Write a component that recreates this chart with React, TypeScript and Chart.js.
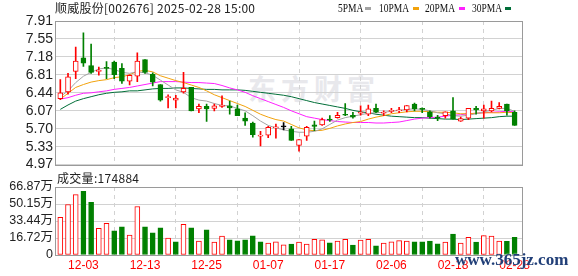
import React, { useEffect, useRef } from 'react';
import { Chart, registerables } from 'chart.js';

Chart.register(...registerables);

// ---------- data ----------
const dates = [
  '11-28', '11-29', '12-02', '12-03', '12-04', '12-05', '12-06', '12-09', '12-10', '12-11',
  '12-12', '12-13', '12-16', '12-17', '12-18', '12-19', '12-20', '12-23', '12-24', '12-25',
  '12-26', '12-27', '12-30', '12-31', '01-02', '01-03', '01-06', '01-07', '01-08', '01-09',
  '01-10', '01-13', '01-14', '01-15', '01-16', '01-17', '01-20', '01-21', '01-22', '01-23',
  '01-24', '01-27', '02-05', '02-06', '02-07', '02-10', '02-11', '02-12', '02-13', '02-14',
  '02-17', '02-18', '02-19', '02-20', '02-21', '02-24', '02-25', '02-26', '02-27', '02-28',
];

const opens = [
  6.32, 6.46, 6.88, 7.16, 7.00, 6.88, 6.96, 7.07, 6.94, 6.68,
  6.78, 7.12, 6.82, 6.61, 6.34, 6.29, 6.46, 6.55, 6.11, 6.16,
  6.12, 6.16, 6.17, 6.11, 5.92, 5.82, 5.55, 5.57, 5.72, 5.74,
  5.70, 5.36, 5.55, 5.78, 5.78, 5.90, 5.93, 6.00, 5.98, 6.02,
  6.00, 6.12, 6.02, 6.06, 6.07, 6.09, 6.21, 6.11, 6.05, 5.94,
  5.97, 6.07, 5.86, 5.92, 6.12, 6.07, 6.07, 6.12, 6.21, 6.04,
];
const highs = [
  6.71, 6.84, 7.38, 7.67, 7.44, 6.97, 7.08, 7.09, 7.04, 6.81,
  7.26, 7.12, 6.85, 6.61, 6.40, 6.39, 6.86, 6.55, 6.21, 6.21,
  6.21, 6.38, 6.27, 6.19, 6.03, 5.84, 5.65, 5.75, 5.80, 5.83,
  5.75, 5.48, 5.75, 5.86, 5.92, 5.97, 6.04, 6.22, 6.04, 6.17,
  6.19, 6.21, 6.07, 6.12, 6.14, 6.18, 6.23, 6.13, 6.07, 5.98,
  6.05, 6.34, 5.94, 6.12, 6.16, 6.19, 6.27, 6.24, 6.21, 6.07,
];
const lows = [
  6.30, 6.41, 6.73, 6.98, 6.84, 6.80, 6.73, 6.73, 6.63, 6.60,
  6.67, 6.84, 6.58, 6.27, 6.13, 6.13, 6.43, 6.07, 6.03, 5.85,
  6.07, 6.14, 6.00, 5.97, 5.77, 5.53, 5.35, 5.52, 5.51, 5.68,
  5.46, 5.24, 5.46, 5.66, 5.77, 5.85, 5.92, 5.97, 5.92, 5.98,
  5.97, 6.03, 5.97, 6.03, 6.03, 6.05, 6.07, 6.03, 5.92, 5.87,
  5.92, 5.90, 5.85, 5.89, 6.00, 5.92, 6.05, 6.11, 5.98, 5.77,
];
const closes = [
  6.44, 6.77, 7.09, 7.05, 6.86, 6.90, 6.94, 6.81, 6.68, 6.80,
  7.09, 6.86, 6.66, 6.29, 6.36, 6.33, 6.53, 6.07, 6.16, 6.11,
  6.17, 6.19, 6.13, 5.97, 5.86, 5.58, 5.57, 5.73, 5.74, 5.74,
  5.46, 5.48, 5.73, 5.75, 5.89, 5.88, 5.98, 5.98, 5.94, 6.04,
  6.11, 6.04, 6.04, 6.08, 6.09, 6.18, 6.11, 6.10, 5.95, 5.92,
  6.05, 5.90, 5.91, 6.12, 6.09, 6.11, 6.12, 6.16, 6.07, 5.77,
];

const volumes = [
  370000, 497000, 594000, 627000, 519000, 263000, 312000, 237000, 276000, 195000,
  477000, 276000, 217000, 266000, 166000, 130000, 302000, 266000, 136000, 247000,
  127000, 185000, 149000, 140000, 149000, 188000, 130000, 117000, 130000, 100000,
  108000, 126000, 108000, 155000, 150000, 120000, 138000, 155000, 98000, 147000,
  155000, 90000, 118000, 130000, 142000, 136000, 130000, 130000, 138000, 110000,
  128000, 205000, 116000, 174000, 128000, 190000, 185000, 138000, 135000, 174884,
];

const ma5 = [
  6.36, 6.48, 6.65, 6.78, 6.86, 6.93, 6.95, 6.92, 6.86, 6.84,
  6.87, 6.85, 6.80, 6.70, 6.60, 6.50, 6.45, 6.34, 6.29, 6.27,
  6.22, 6.18, 6.17, 6.12, 6.07, 5.97, 5.86, 5.77, 5.72, 5.68,
  5.65, 5.63, 5.63, 5.65, 5.70, 5.79, 5.88, 5.93, 5.96, 5.99,
  6.02, 6.03, 6.04, 6.06, 6.08, 6.10, 6.11, 6.10, 6.07, 6.03,
  6.01, 5.97, 5.96, 5.98, 6.01, 6.05, 6.08, 6.12, 6.12, 6.06,
];
const ma10 = [
  6.31, 6.43, 6.55, 6.61, 6.66, 6.69, 6.71, 6.75, 6.77, 6.81,
  6.88, 6.90, 6.87, 6.79, 6.74, 6.69, 6.65, 6.60, 6.55, 6.48,
  6.40, 6.34, 6.28, 6.22, 6.16, 6.08, 6.00, 5.94, 5.89, 5.86,
  5.79, 5.72, 5.68, 5.66, 5.67, 5.71, 5.76, 5.80, 5.83, 5.85,
  5.90, 5.94, 5.97, 6.01, 6.03, 6.05, 6.06, 6.06, 6.05, 6.04,
  6.04, 6.03, 6.01, 6.01, 6.02, 6.03, 6.03, 6.03, 6.04, 6.03,
];
const ma20 = [
  6.31, 6.34, 6.39, 6.43, 6.44, 6.46, 6.48, 6.51, 6.53, 6.55,
  6.58, 6.61, 6.64, 6.67, 6.67, 6.67, 6.66, 6.65, 6.65, 6.64,
  6.63, 6.59, 6.54, 6.50, 6.45, 6.38, 6.32, 6.26, 6.20, 6.14,
  6.07, 6.01, 5.95, 5.92, 5.89, 5.87, 5.85, 5.84, 5.83, 5.83,
  5.83, 5.82, 5.82, 5.83, 5.84, 5.87, 5.90, 5.92, 5.93, 5.94,
  5.96, 5.98, 5.99, 6.01, 6.02, 6.03, 6.04, 6.05, 6.06, 6.05,
];
const ma30 = [
  6.10, 6.19, 6.27, 6.32, 6.36, 6.40, 6.43, 6.45, 6.46, 6.48,
  6.48, 6.50, 6.52, 6.53, 6.53, 6.54, 6.54, 6.53, 6.52, 6.51,
  6.51, 6.50, 6.50, 6.50, 6.49, 6.47, 6.45, 6.43, 6.41, 6.39,
  6.36, 6.32, 6.28, 6.24, 6.21, 6.18, 6.15, 6.12, 6.08, 6.05,
  6.03, 6.00, 5.98, 5.96, 5.95, 5.94, 5.93, 5.93, 5.92, 5.91,
  5.90, 5.90, 5.89, 5.90, 5.91, 5.92, 5.93, 5.95, 5.96, 5.96,
];

const priceTickLabels = ['4.97', '5.33', '5.70', '6.07', '6.44', '6.81', '7.18', '7.55', '7.91'];
const PRICE_MIN = 4.966;
const PRICE_MAX = 7.914;
const volumeTickLabels = ['0', '16.72万', '33.44万', '50.15万', '66.87万'];
const VOLUME_MAX = 668720;

const titleText = '顺威股份[002676] 2025-02-28 15:00';
const maNames = ['5PMA', '10PMA', '20PMA', '30PMA'];
const volumeTitle = '成交量:174884';

// ---------- styles ----------
const UP = '#ff0000';
const DOWN = '#008000';
const FLAT = '#000000';
const MA_COLORS = ['#a3a3a3', '#f2a20c', '#ff20ff', '#006e38'];
const GRID = '#d2d2d2';
const FRAME = '#9a9a9a';
const X_MIN = -0.56;
const X_MAX = 59.96;
const AXIS_FONT = '"Liberation Sans", "Noto Sans CJK SC", sans-serif';

const framePlugin = {
  id: 'frame',
  afterDraw(chart: any) {
    const { ctx, chartArea: a } = chart;
    ctx.save();
    ctx.strokeStyle = FRAME;
    ctx.lineWidth = 1;
    const l = Math.round(a.left) - 0.5;
    const r = Math.round(a.right) + 0.5;
    const t = Math.round(a.top) + 0.5;
    const b = Math.round(a.bottom) + 0.5;
    ctx.strokeRect(l, t, r - l, b - t);
    ctx.restore();
  },
};

export default function App() {
  const priceRef = useRef<HTMLCanvasElement>(null);
  const volRef = useRef<HTMLCanvasElement>(null);

  useEffect(() => {
    const idx = dates.map((_, i) => i);
    const labelIdx = idx.filter((i) => i % 8 === 3);
    const candleColor = (i: number) =>
      closes[i] > opens[i] ? UP : closes[i] < opens[i] ? DOWN : FLAT;
    const volColor = (i: number) => {
      const prev = i === 0 ? opens[0] : closes[i - 1];
      return closes[i] >= prev ? UP : DOWN;
    };

    const xScale = (showLabels: boolean) => ({
      type: 'linear',
      min: X_MIN,
      max: X_MAX,
      offset: false,
      afterBuildTicks: (s: any) => {
        s.ticks = labelIdx.map((v) => ({ value: v }));
      },
      grid: { color: GRID, lineWidth: 1, drawTicks: false },
      border: { display: false, dash: [4, 4] },
      ticks: {
        display: showLabels,
        autoSkip: false,
        maxRotation: 0,
        minRotation: 0,
        padding: 3,
        color: '#ff0000',
        font: { family: AXIS_FONT, size: 12 },
        callback: (v: any) => dates[Math.round(v)],
      },
      afterFit: (s: any) => {
        s.height = showLabels ? 21 : 0;
      },
    });

    const maDatasets = [ma5, ma10, ma20, ma30].map((arr, k) => ({
      type: 'line',
      label: maNames[k],
      data: idx.map((i) => ({ x: i, y: arr[i] })),
      borderColor: MA_COLORS[k],
      borderWidth: 1,
      pointRadius: 0,
      tension: 0,
      fill: false,
      order: 2,
    }));

    const price = new Chart(priceRef.current as HTMLCanvasElement, {
      type: 'bar',
      data: {
        datasets: [
          {
            type: 'bar',
            label: 'body',
            data: idx.map((i) => ({
              x: i,
              y: [Math.min(opens[i], closes[i]), Math.max(opens[i], closes[i])],
            })),
            backgroundColor: idx.map((i) => (closes[i] > opens[i] ? '#ffffff' : candleColor(i))),
            borderColor: idx.map(candleColor),
            borderWidth: 1,
            borderSkipped: false,
            barThickness: 5,
            minBarLength: 1,
            grouped: false,
            order: 0,
          },
          {
            type: 'bar',
            label: 'wick',
            data: idx.map((i) => ({ x: i, y: [lows[i], highs[i]] })),
            backgroundColor: idx.map(candleColor),
            borderWidth: 0,
            barThickness: 1,
            grouped: false,
            order: 1,
          },
          ...maDatasets,
        ] as any,
      },
      options: {
        responsive: false,
        animation: false,
        events: [],
        layout: { padding: { left: 0, right: 56, top: 21, bottom: 10 } },
        plugins: { legend: { display: false }, tooltip: { enabled: false } },
        scales: {
          x: xScale(false) as any,
          y: {
            min: PRICE_MIN,
            max: PRICE_MAX,
            afterBuildTicks: (s: any) => {
              const step = (PRICE_MAX - PRICE_MIN) / (priceTickLabels.length - 1);
              s.ticks = priceTickLabels.map((_, k) => ({ value: PRICE_MIN + k * step }));
            },
            ticks: {
              autoSkip: false,
              padding: 3,
              color: '#222222',
              font: { family: AXIS_FONT, size: 14 },
              callback: (_v: any, i: number) => priceTickLabels[i],
            },
            grid: { color: GRID, drawTicks: false },
            border: { display: false },
            afterFit: (s: any) => {
              s.width = 56;
            },
          } as any,
        },
      },
      plugins: [framePlugin],
    });

    const vol = new Chart(volRef.current as HTMLCanvasElement, {
      type: 'bar',
      data: {
        datasets: [
          {
            label: 'volume',
            data: idx.map((i) => ({ x: i, y: volumes[i] })),
            backgroundColor: idx.map((i) => (volColor(i) === UP ? '#ffffff' : DOWN)),
            borderColor: idx.map(volColor),
            borderWidth: 1,
            borderSkipped: false,
            barThickness: 5,
            grouped: false,
          },
        ] as any,
      },
      options: {
        responsive: false,
        animation: false,
        events: [],
        layout: { padding: { left: 0, right: 56, top: 11, bottom: 0 } },
        plugins: { legend: { display: false }, tooltip: { enabled: false } },
        scales: {
          x: xScale(true) as any,
          y: {
            min: 0,
            max: VOLUME_MAX,
            afterBuildTicks: (s: any) => {
              const step = VOLUME_MAX / (volumeTickLabels.length - 1);
              s.ticks = volumeTickLabels.map((_, k) => ({ value: k * step }));
            },
            ticks: {
              autoSkip: false,
              padding: 3,
              color: '#222222',
              font: { family: AXIS_FONT, size: 12.5 },
              callback: (_v: any, i: number) => volumeTickLabels[i],
            },
            grid: { color: GRID, drawTicks: false },
            border: { display: false },
            afterFit: (s: any) => {
              s.width = 56;
            },
          } as any,
        },
      },
      plugins: [framePlugin],
    });

    return () => {
      price.destroy();
      vol.destroy();
    };
  }, []);

  const legendLefts = [338, 379, 425, 472];
  const swatchLefts = [365, 413, 459, 505];

  return (
    <div
      style={{
        position: 'absolute',
        left: 0,
        top: 0,
        width: 578,
        height: 276,
        overflow: 'hidden',
        background: '#ffffff',
      }}
    >
      <div
        style={{
          position: 'absolute',
          left: 248,
          top: 73,
          fontFamily: '"Noto Sans CJK SC", sans-serif',
          fontWeight: 700,
          fontSize: 28,
          lineHeight: '30px',
          letterSpacing: 5,
          color: '#e8e8ec',
          whiteSpace: 'nowrap',
          zIndex: 0,
        }}
      >
        东方财富
      </div>
      <canvas
        ref={priceRef}
        width={578}
        height={176}
        style={{ position: 'absolute', left: 0, top: 0, width: 578, height: 176, zIndex: 1 }}
      />
      <canvas
        ref={volRef}
        width={578}
        height={100}
        style={{ position: 'absolute', left: 0, top: 176, width: 578, height: 100, zIndex: 1 }}
      />
      <div
        style={{
          position: 'absolute',
          left: 55,
          top: 1,
          fontFamily: '"Noto Sans CJK SC", sans-serif',
          fontSize: 12,
          lineHeight: '14px',
          letterSpacing: 0.25,
          color: '#222222',
          whiteSpace: 'nowrap',
          zIndex: 2,
        }}
      >
        {titleText}
      </div>
      {maNames.map((name, k) => (
        <React.Fragment key={name}>
          <div
            style={{
              position: 'absolute',
              left: legendLefts[k],
              top: 2,
              fontFamily: '"Liberation Serif", serif',
              fontSize: 12.5,
              lineHeight: '13px',
              color: '#111111',
              whiteSpace: 'nowrap',
              transform: 'scaleX(0.76)',
              transformOrigin: 'left top',
              zIndex: 2,
            }}
          >
            {name}
          </div>
          <div
            style={{
              position: 'absolute',
              left: swatchLefts[k],
              top: 7,
              width: 6,
              height: 3,
              background: MA_COLORS[k],
              zIndex: 2,
            }}
          />
        </React.Fragment>
      ))}
      <div
        style={{
          position: 'absolute',
          left: 57,
          top: 171,
          fontFamily: '"Noto Sans CJK SC", sans-serif',
          fontSize: 12,
          lineHeight: '14px',
          letterSpacing: 0.3,
          color: '#222222',
          whiteSpace: 'nowrap',
          zIndex: 2,
        }}
      >
        {volumeTitle}
      </div>
      <div
        style={{
          position: 'absolute',
          left: 455,
          top: 251,
          fontFamily: '"Liberation Serif", serif',
          fontWeight: 700,
          fontSize: 17,
          lineHeight: '17px',
          color: '#213f78',
          textShadow: '0 0 2px #ffffff',
          whiteSpace: 'nowrap',
          zIndex: 3,
        }}
      >
        www.365jz.com
      </div>
    </div>
  );
}
